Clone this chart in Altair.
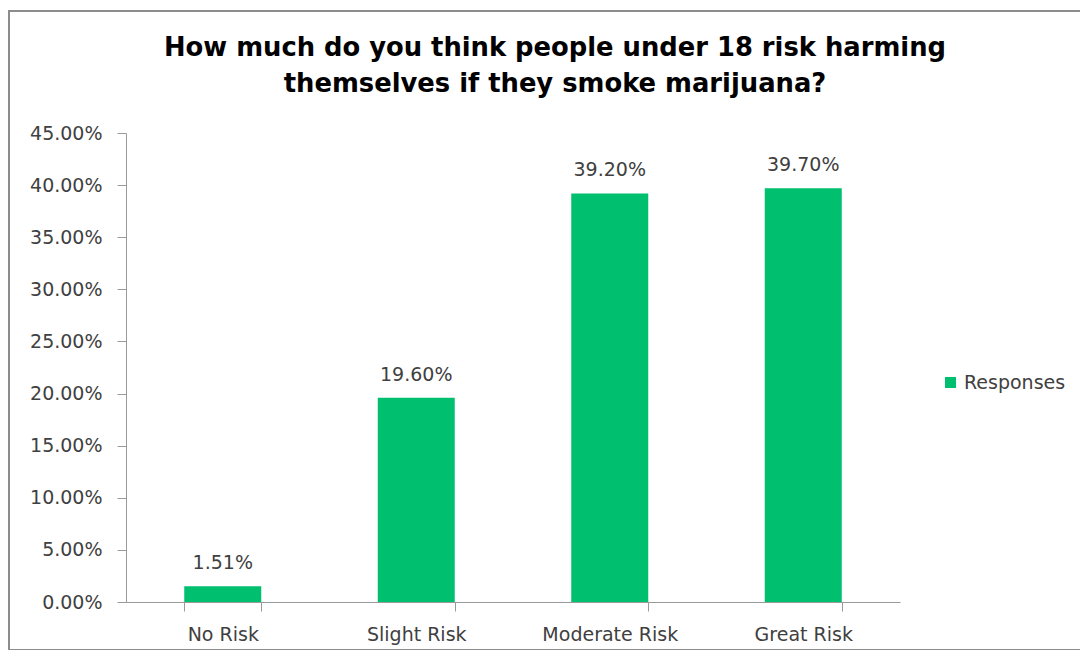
import altair as alt
import pandas as pd

categories = ["No Risk", "Slight Risk", "Moderate Risk", "Great Risk"]
values = [0.0151, 0.196, 0.392, 0.397]
series_name = "Responses"
y_ticks = [0, 0.05, 0.10, 0.15, 0.20, 0.25, 0.30, 0.35, 0.40, 0.45]
title_lines = ["How much do you think people under 18 risk harming",
               "themselves if they smoke marijuana?"]

df = pd.DataFrame({"category": categories, "value": values, "series": series_name})

GREEN = "#00BF6F"
TXT = "#404040"
FONT = "DejaVu Sans"
FS = 19
AXC = "#9a9a9a"

base = alt.Chart(df)

bars = base.mark_bar(size=77).encode(
    x=alt.X("category:N", sort=categories, title=None,
            scale=alt.Scale(paddingInner=0.6, paddingOuter=0.3),
            axis=alt.Axis(labelAngle=0, labelFontSize=FS, labelColor=TXT, labelFont=FONT,
                          labelPadding=14, tickBand="extent", tickSize=9,
                          tickColor=AXC, domainColor=AXC)),
    y=alt.Y("value:Q", title=None,
            scale=alt.Scale(domain=[0, 0.45], nice=False),
            axis=alt.Axis(values=y_ticks, format=".2%", labelFontSize=FS, labelColor=TXT,
                          labelFont=FONT, labelPadding=15, tickSize=9, grid=False,
                          tickColor=AXC, domainColor=AXC)),
    color=alt.Color("series:N", title=None,
                    scale=alt.Scale(range=[GREEN]),
                    legend=alt.Legend(orient="none", legendX=815, legendY=240,
                                      symbolType="square", symbolSize=120,
                                      labelFontSize=FS, labelColor=TXT, labelFont=FONT,
                                      symbolStrokeWidth=0)),
)

labels = base.mark_text(baseline="alphabetic", dy=-17, fontSize=FS, color=TXT, font=FONT).encode(
    x=alt.X("category:N", sort=categories),
    y="value:Q",
    text=alt.Text("value:Q", format=".2%"),
)

one = pd.DataFrame({"a": [0]})

frame = alt.Chart(one).mark_rect(
    fillOpacity=0, stroke="#8c8c8c", strokeWidth=2
).encode(
    x=alt.value(-117), x2=alt.value(955), y=alt.value(-122), y2=alt.value(517)
)

title = alt.Chart(one).mark_text(
    text=title_lines, font="DejaVu Sans", fontWeight="bold", fontSize=25.8,
    color="#000000", lineHeight=36, align="center", baseline="middle"
).encode(x=alt.value(429), y=alt.value(-85))

chart = alt.layer(frame, title, bars, labels).properties(
    width=774, height=469,
    padding={"left": 118, "top": 125, "right": 180, "bottom": 48},
    autosize=alt.AutoSizeParams(type="none"),
).configure(background="white").configure_view(stroke="transparent", strokeWidth=0)

chart.save("out.html", embed_options={"renderer": "svg", "actions": False})
